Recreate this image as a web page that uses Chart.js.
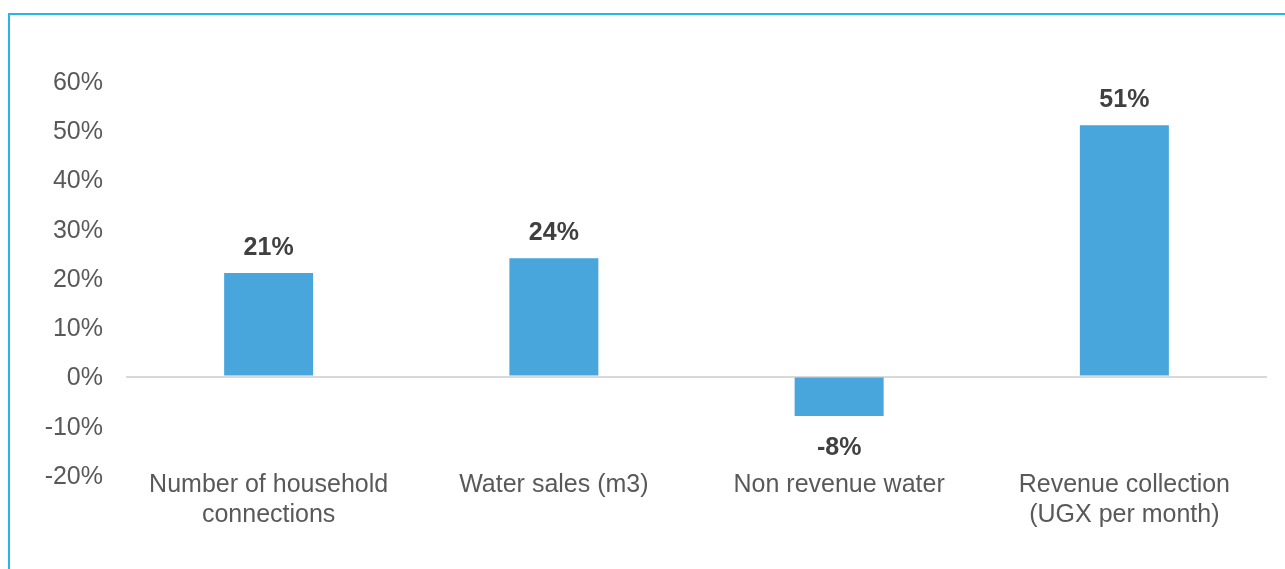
<!DOCTYPE html>
<html>
<head>
<meta charset="utf-8">
<script src="https://cdn.jsdelivr.net/npm/chart.js@4.4.1/dist/chart.umd.min.js"></script>
<style>
  html, body { margin: 0; padding: 0; background: #ffffff; }
  #wrap { position: relative; width: 1285px; height: 569px; overflow: hidden; }
  #frame { position: absolute; left: 8px; top: 13px; width: 1300px; height: 600px;
           border-top: 2px solid #29b5ea; border-left: 2px solid #29b5ea; box-sizing: border-box; pointer-events: none; }
  canvas { position: absolute; left: 0; top: 0; }
</style>
</head>
<body>
<div id="wrap">
  <canvas id="c" width="1285" height="569"></canvas>
  <div id="frame"></div>
</div>
<script>
const categories = [
  ["Number of household", "connections"],
  "Water sales (m3)",
  "Non revenue water",
  ["Revenue collection", "(UGX per month)"]
];
const changeValues = [21, 24, -8, 51];
const yMin = -20;
const yMax = 60;
const yStep = 10;

const FONT = "'Liberation Sans', Arial, sans-serif";

const valueLabels = {
  id: 'valueLabels',
  afterDatasetsDraw(chart) {
    const ctx = chart.ctx;
    const meta = chart.getDatasetMeta(0);
    ctx.save();
    ctx.font = "bold 25px " + FONT;
    ctx.fillStyle = '#404040';
    ctx.textAlign = 'center';
    ctx.textBaseline = 'middle';
    meta.data.forEach((bar, i) => {
      const v = chart.data.datasets[0].data[i];
      const y = v >= 0 ? bar.y - 25 : bar.y + 32;
      ctx.fillText(v + '%', bar.x, y);
    });
    ctx.restore();
  }
};

new Chart(document.getElementById('c'), {
  type: 'bar',
  data: {
    labels: categories,
    datasets: [{
      data: changeValues,
      backgroundColor: '#48a6dc',
      borderWidth: 0,
      categoryPercentage: 1,
      barPercentage: 0.312
    }]
  },
  options: {
    responsive: false,
    animation: false,
    events: [],
    layout: { padding: { top: 81, right: 18, bottom: 0, left: 0 } },
    plugins: { legend: { display: false }, tooltip: { enabled: false } },
    scales: {
      x: {
        afterFit(scale) { scale.height = 94; },
        grid: { display: false, drawTicks: false },
        border: { display: false },
        ticks: {
          color: '#595959',
          font: { family: FONT, size: 25, lineHeight: 1.2 },
          mirror: true,
          padding: -25,
          maxRotation: 0,
          autoSkip: false
        }
      },
      y: {
        min: yMin,
        max: yMax,
        afterFit(scale) { scale.width = 126; },
        grid: {
          drawTicks: false,
          lineWidth: 2,
          color: (c) => (c.tick && c.tick.value === 0 ? '#d9d9d9' : 'rgba(0,0,0,0)')
        },
        border: { display: false },
        ticks: {
          stepSize: yStep,
          color: '#595959',
          font: { family: FONT, size: 25 },
          padding: 23,
          labelOffset: 2,
          callback: (v) => v + '%'
        }
      }
    }
  },
  plugins: [valueLabels]
});
</script>
</body>
</html>
